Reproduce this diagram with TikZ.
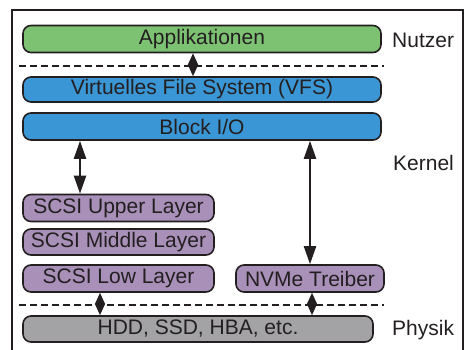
\documentclass[tikz,border=0pt]{standalone}
\usepackage{fontspec}
\setmainfont{Liberation Sans}
\usetikzlibrary{arrows.meta}
\definecolor{appgreen}{HTML}{7DC272}
\definecolor{kernblue}{HTML}{3A96D4}
\definecolor{scsipurple}{HTML}{A990B8}
\definecolor{hwgray}{HTML}{A3A3A5}
\definecolor{inkgray}{HTML}{231F20}

\begin{document}
\begin{tikzpicture}[x=1pt,y=-1pt,
    layer/.style={draw=inkgray,line width=1.6pt,rounded corners=8pt,minimum height=27pt,
        inner sep=0pt,text=inkgray,font=\fontsize{21}{25}\selectfont},
    side/.style={anchor=west,inner sep=0pt,text=inkgray,font=\fontsize{21}{25}\selectfont},
    biarrow/.style={inkgray,line width=2.2pt,>={Triangle[length=18pt,width=12pt]},<->},
    diamond tip/.style={inkgray,line width=1.6pt,>={Triangle[length=11.5pt,width=10pt]},<->},
    sep/.style={inkgray,line width=1.6pt,dash pattern=on 7pt off 4pt}]
    \useasboundingbox (0,0) rectangle (473,350);
    \clip (0,0) rectangle (473,350);
    % frame
    \draw[inkgray,line width=1.2pt] (12,360) -- (12,10) -- (463,10) -- (463,360);
    % user space
    \node[layer,fill=appgreen,minimum width=358pt] (app) at (202,39) {Applikationen};
    % kernel space
    \node[layer,fill=kernblue,minimum width=358pt,minimum height=25pt] (vfs) at (202,89.5) {Virtuelles File System (VFS)};
    \node[layer,fill=kernblue,minimum width=358pt] (blockio) at (202,126.5) {Block I/O};
    \node[layer,fill=scsipurple,minimum width=191pt] (scsiup) at (118.5,208) {SCSI Upper Layer};
    \node[layer,fill=scsipurple,minimum width=191pt,minimum height=26pt] (scsimid) at (118.5,242) {SCSI Middle Layer};
    \node[layer,fill=scsipurple,minimum width=191pt] (scsilow) at (118.5,278.5) {SCSI Low Layer};
    \node[layer,fill=scsipurple,minimum width=148pt] (nvme) at (310,278.5) {NVMe Treiber};
    % hardware
    \node[layer,fill=hwgray,minimum width=350pt,minimum height=26pt] (hw) at (198,329) {HDD, SSD, HBA, etc.};
    % side labels
    \node[side] (nutzer) at (392,40) {Nutzer};
    \node[side] (kernel) at (393,163) {Kernel};
    \node[side] (physik) at (392,330) {Physik};
    % boundaries
    \draw[sep] (19,66) -- (384,66);
    \draw[sep] (19,305) -- (384,305);
    % connections
    \coordinate (topx) at (193,0);
    \coordinate (scsix) at (80,0);
    \coordinate (nvmex) at (310,0);
    \coordinate (lowx) at (100,0);
    \coordinate (hwx) at (312,0);
    \draw[diamond tip] (app.south -| topx) -- (vfs.north -| topx);
    \draw[biarrow] (blockio.south -| scsix) -- (scsiup.north -| scsix);
    \draw[biarrow] (blockio.south -| nvmex) -- (nvme.north -| nvmex);
    \draw[diamond tip] (scsilow.south -| lowx) -- (hw.north -| lowx);
    \draw[diamond tip] (nvme.south -| hwx) -- (hw.north -| hwx);
\end{tikzpicture}
\end{document}
